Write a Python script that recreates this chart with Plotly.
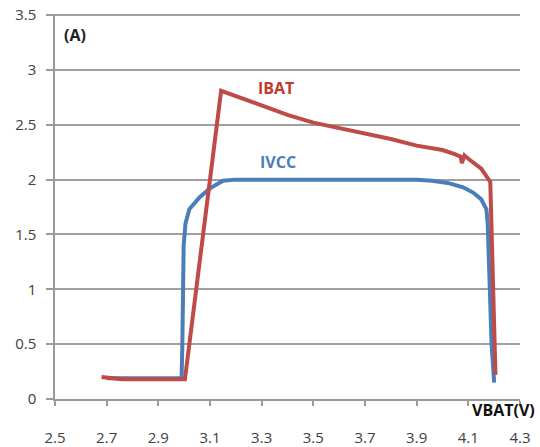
import plotly.graph_objects as go

# IBAT (red) series
ibat_v = [2.68, 2.72, 2.76, 2.85, 2.95, 3.003, 3.143, 3.2, 3.3, 3.4, 3.5, 3.6, 3.7, 3.8, 3.9,
          4.0, 4.05, 4.07, 4.075, 4.085, 4.1, 4.15, 4.185, 4.19, 4.195, 4.2, 4.205]
ibat_i = [0.2, 0.19, 0.18, 0.18, 0.18, 0.18, 2.81, 2.76, 2.67, 2.59, 2.52, 2.47, 2.42, 2.37, 2.31,
          2.27, 2.23, 2.21, 2.15, 2.22, 2.19, 2.1, 1.98, 1.6, 1.2, 0.7, 0.22]

# IVCC (blue) series
ivcc_v = [2.7, 2.99, 2.993, 2.995, 2.998, 3.005, 3.02, 3.06, 3.1, 3.15, 3.2, 3.5, 3.9, 3.96,
          4.02, 4.08, 4.12, 4.15, 4.17, 4.175, 4.18, 4.185, 4.19, 4.2]
ivcc_i = [0.19, 0.19, 0.5, 1.0, 1.4, 1.6, 1.73, 1.84, 1.92, 1.99, 2.0, 2.0, 2.0, 1.99,
          1.97, 1.93, 1.88, 1.82, 1.73, 1.6, 1.3, 0.9, 0.5, 0.15]

x_ticks = [2.5, 2.7, 2.9, 3.1, 3.3, 3.5, 3.7, 3.9, 4.1, 4.3]
y_ticks = [0, 0.5, 1, 1.5, 2, 2.5, 3, 3.5]

FONT = "Open Sans"
fig = go.Figure()
fig.add_trace(go.Scatter(x=ivcc_v, y=ivcc_i, mode="lines", name="IVCC",
                         line=dict(color="#4A7EBB", width=4)))
fig.add_trace(go.Scatter(x=ibat_v, y=ibat_i, mode="lines", name="IBAT",
                         line=dict(color="#BE4B48", width=4)))

fig.update_layout(
    template="none",
    width=540, height=447,
    margin=dict(l=55, r=20, t=14, b=48),
    paper_bgcolor="white", plot_bgcolor="white",
    showlegend=False,
    font=dict(family=FONT, size=15, color="#404040"),
    xaxis=dict(range=[2.5, 4.3], tickvals=x_ticks, ticktext=[str(t) for t in x_ticks],
               automargin=False, ticklabeloverflow="allow",
               showgrid=False, zeroline=False, showline=True, linecolor="#9a9a9a", linewidth=1.5,
               ticks="outside", ticklen=5, tickcolor="#9a9a9a", tickwidth=1.5,
               ticklabelstandoff=19, tickfont=dict(size=15, color="#404040")),
    yaxis=dict(range=[0, 3.51], tickvals=y_ticks, ticktext=[str(t) for t in y_ticks],
               automargin=False, ticklabeloverflow="allow",
               showgrid=True, gridcolor="#a0a0a0", gridwidth=1.5, zeroline=False,
               showline=True, linecolor="#9a9a9a", linewidth=1.5,
               ticks="outside", ticklen=7, tickcolor="#9a9a9a", tickwidth=1.5,
               ticklabelstandoff=7, tickfont=dict(size=15, color="#404040")),
)

fig.add_annotation(x=3.355, y=2.835, text="<b>IBAT</b>", showarrow=False,
                   font=dict(family=FONT, size=16, color="#C0392B"))
fig.add_annotation(x=3.363, y=2.16, text="<b>IVCC</b>", showarrow=False,
                   font=dict(family=FONT, size=16, color="#4A7EBB"))
fig.add_annotation(x=2.577, y=3.315, text="<b>(A)</b>", showarrow=False,
                   font=dict(family=FONT, size=16, color="#202020"))
fig.add_annotation(xref="paper", yref="paper", x=1.037, y=-0.0286, xanchor="right", yanchor="middle",
                   text="<b>VBAT(V)</b>", showarrow=False,
                   font=dict(family=FONT, size=16, color="#111111"))

fig.write_html("out.html", config={"displayModeBar": False},
               post_script="document.body.style.margin='0';document.body.style.overflow='hidden';")
